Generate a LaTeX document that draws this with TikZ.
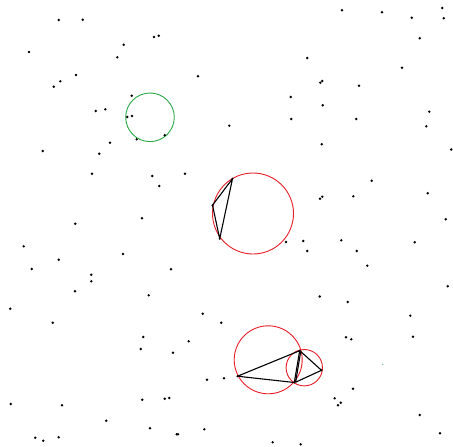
\documentclass[tikz,border=0pt]{standalone}
\begin{document}
\begin{tikzpicture}[x=1pt,y=-1pt,
  dot/.style={circle,fill=black,inner sep=0pt,minimum size=2.7pt},
  edge/.style={black,line width=1.1pt},
  redcirc/.style={draw={rgb,255:red,232;green,30;blue,40},line width=0.9pt},
  greencirc/.style={draw={rgb,255:red,40;green,170;blue,70},line width=0.9pt}]
\useasboundingbox (0,0) rectangle (453,447);
\fill[white] (0,0) rectangle (453,447);
% circles
\node[greencirc,circle,inner sep=0pt,minimum size=48.6pt] (g1) at (150,117.3) {};
\node[redcirc,circle,inner sep=0pt,minimum size=81pt] (r1) at (253,213.5) {};
\node[redcirc,circle,inner sep=0pt,minimum size=68pt] (r2) at (268.2,359.8) {};
\node[redcirc,circle,inner sep=0pt,minimum size=36.4pt] (r3) at (304.3,367.7) {};
% triangle vertices
\coordinate (t1) at (232.5,178.7);
\coordinate (t2) at (212.5,205.2);
\coordinate (t3) at (219.7,238.8);
\coordinate (va) at (237.5,376.2);
\coordinate (vb) at (299.7,350.7);
\coordinate (vc) at (294.3,382.5);
\coordinate (vd) at (321.5,370.3);
\coordinate (vb2) at (300.7,351.5);
\coordinate (vc2) at (295.6,382.2);
\draw[edge,line join=round] (t1) -- (t2) -- (t3) -- cycle;
\draw[edge,line join=round] (va) -- (vb) -- (vc) -- cycle;
\draw[edge,line join=round] (vb2) -- (vd) -- (vc2) -- cycle;
\foreach \v in {t1,t2,t3,va,vb,vc,vd} \node[dot,minimum size=2.2pt] at (\v) {};
% points
\foreach \x/\y [count=\i] in {
58.7/20, 82.7/19.7, 29/52, 154/37, 158.7/35.7, 123.7/44.7, 117.3/57.3, 76/75,
60.3/81.3, 53.7/86.7, 198/76.3, 131.7/95.7, 95.7/111, 105.3/109.3, 127.3/117, 132/116,
136.7/139.3, 164.7/135.3, 110/142.7, 229.3/125.7, 342/10.3, 382/12.3, 411.7/17.7, 442.3/8,
443.7/18.3, 419.7/38.3, 307.3/58, 402/67.7, 322.3/81, 320.3/82.7, 359/85.7, 290.7/97,
322.7/105.3, 291.3/119, 356.3/119, 429.3/111.7, 426.3/126.3, 321.7/144.3, 451.3/149.5, 42.7/151,
99.3/153.7, 92/173.7, 152.3/176, 159.3/186, 185/173.7, 75.3/223.7, 142/218.3, 23.7/246.3,
58.7/259.7, 31.7/269, 123/254, 91.3/274.7, 91.3/281.3, 171/269.3, 75/291.3, 148.7/295.3,
371.7/180.7, 322.3/196.7, 320/198.7, 353.3/196.3, 427.7/193.3, 445.7/219.3, 286/242, 303.3/241,
307.3/251, 341.3/240.3, 356.7/251, 367.3/265.7, 414.7/242.3, 447.7/286.3, 319.7/296.5, 10.3/308.7,
52.7/322.7, 143.3/337, 140.7/349, 173/352.7, 188.7/341.3, 202.7/313.7, 221.3/322.7, 207/379.7,
224/378.3, 10.7/404, 62/405.3, 106.3/420.7, 35.3/437.7, 43.3/440.7, 58.7/437.3, 142.3/399.7,
164.7/398.7, 169.3/398, 150/428.3, 176.7/434.3, 178/434.3, 204.3/429.3, 347.7/302, 410.3/315.7,
413/336.7, 346/337.3, 351.3/339.3, 353/388.7, 334.7/398.3, 340.7/402.7, 338/405.3, 419.7/415,
440/433.3, 272.7/442.3, 300.7/444.3}
  \node[dot] (p\i) at (\x,\y) {};
\node[circle,fill={rgb,255:red,60;green,190;blue,120},inner sep=0pt,minimum size=1.2pt] (q1) at (382.7,364.7) {};
\end{tikzpicture}
\end{document}
